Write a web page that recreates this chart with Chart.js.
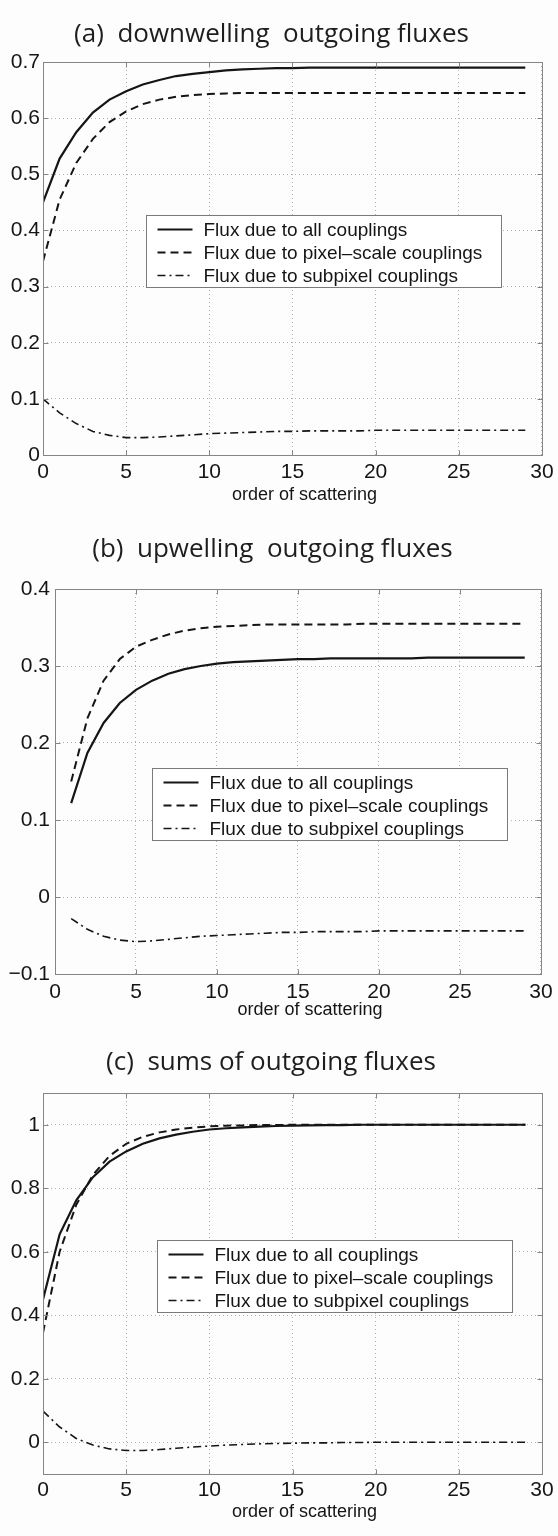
<!DOCTYPE html>
<html>
<head>
<meta charset="utf-8">
<script src="https://cdn.jsdelivr.net/npm/chart.js@4.4.1/dist/chart.umd.min.js"></script>
<style>
  body { margin: 0; background: #fdfdfd; }
  .panel { position: absolute; left: 0; width: 558px; }
</style>
</head>
<body>
<div class="panel" style="top:0;height:520px"><canvas id="chartA"></canvas></div>
<div class="panel" style="top:520px;height:510px"><canvas id="chartB"></canvas></div>
<div class="panel" style="top:1030px;height:506px"><canvas id="chartC"></canvas></div>
<script>
// order of scattering
const orders = [0, 1, 2, 3, 4, 5, 6, 7, 8, 9, 10, 11, 12, 13, 14, 15, 16, 17, 18, 19, 20, 21, 22, 23, 24, 25, 26, 27, 28, 29];
const ordersUp = [1, 2, 3, 4, 5, 6, 7, 8, 9, 10, 11, 12, 13, 14, 15, 16, 17, 18, 19, 20, 21, 22, 23, 24, 25, 26, 27, 28, 29];

// (a) downwelling
const downAll = [0.450, 0.528, 0.575, 0.610, 0.633, 0.648, 0.660, 0.668, 0.675, 0.679, 0.682, 0.685, 0.687, 0.688, 0.689, 0.689, 0.690, 0.690, 0.690, 0.690, 0.690, 0.690, 0.690, 0.690, 0.690, 0.690, 0.690, 0.690, 0.690, 0.690];
const downPixel = [0.345, 0.455, 0.520, 0.563, 0.593, 0.612, 0.625, 0.633, 0.638, 0.641, 0.643, 0.644, 0.645, 0.645, 0.645, 0.645, 0.645, 0.645, 0.645, 0.645, 0.645, 0.645, 0.645, 0.645, 0.645, 0.645, 0.645, 0.645, 0.645, 0.645];
const downSub = [0.100, 0.075, 0.056, 0.042, 0.035, 0.031, 0.031, 0.032, 0.034, 0.036, 0.038, 0.039, 0.040, 0.041, 0.042, 0.042, 0.043, 0.043, 0.043, 0.043, 0.044, 0.044, 0.044, 0.044, 0.044, 0.044, 0.044, 0.044, 0.044, 0.044];

// (b) upwelling
const upAll = [0.122, 0.187, 0.226, 0.252, 0.269, 0.281, 0.290, 0.296, 0.300, 0.303, 0.305, 0.306, 0.307, 0.308, 0.309, 0.309, 0.310, 0.310, 0.310, 0.310, 0.310, 0.310, 0.311, 0.311, 0.311, 0.311, 0.311, 0.311, 0.311];
const upPixel = [0.150, 0.232, 0.281, 0.309, 0.325, 0.334, 0.341, 0.346, 0.349, 0.351, 0.352, 0.353, 0.354, 0.354, 0.354, 0.354, 0.354, 0.354, 0.355, 0.355, 0.355, 0.355, 0.355, 0.355, 0.355, 0.355, 0.355, 0.355, 0.355];
const upSub = [-0.028, -0.042, -0.051, -0.056, -0.058, -0.057, -0.055, -0.053, -0.051, -0.050, -0.049, -0.048, -0.047, -0.046, -0.046, -0.045, -0.045, -0.045, -0.045, -0.044, -0.044, -0.044, -0.044, -0.044, -0.044, -0.044, -0.044, -0.044, -0.044];

// (c) sums
const sumAll = [0.450, 0.655, 0.762, 0.835, 0.884, 0.916, 0.940, 0.957, 0.969, 0.978, 0.985, 0.989, 0.992, 0.994, 0.996, 0.997, 0.998, 0.999, 0.999, 1.000, 1.000, 1.000, 1.000, 1.000, 1.000, 1.000, 1.000, 1.000, 1.000, 1.000];
const sumPixel = [0.345, 0.600, 0.748, 0.842, 0.902, 0.940, 0.962, 0.976, 0.985, 0.991, 0.995, 0.997, 0.998, 0.999, 0.999, 1.000, 1.000, 1.000, 1.000, 1.000, 1.000, 1.000, 1.000, 1.000, 1.000, 1.000, 1.000, 1.000, 1.000, 1.000];
const sumSub = [0.098, 0.048, 0.012, -0.009, -0.021, -0.026, -0.026, -0.023, -0.019, -0.015, -0.012, -0.009, -0.007, -0.005, -0.004, -0.003, -0.002, -0.002, -0.001, -0.001, 0.000, 0.000, 0.000, 0.000, 0.000, 0.000, 0.000, 0.000, 0.000, 0.000];

const seriesLabels = ["Flux due to all couplings", "Flux due to pixel\u2013scale couplings", "Flux due to subpixel couplings"];
const panelTitles = ["(a)  downwelling  outgoing fluxes", "(b)  upwelling  outgoing fluxes", "(c)  sums of outgoing fluxes"];
const xTitle = "order of scattering";
const xTicks = [0, 5, 10, 15, 20, 25, 30];
const yTicksA = [0, 0.1, 0.2, 0.3, 0.4, 0.5, 0.6, 0.7];
const yTicksB = [-0.1, 0, 0.1, 0.2, 0.3, 0.4];
const yTicksC = [0, 0.2, 0.4, 0.6, 0.8, 1];

const INK = "#151515";
const SANS = "'Liberation Sans', Arial, sans-serif";
const tickFont = { family: SANS, size: 21 };

// MATLAB style box with inward ticks
const axesBox = {
  id: "axesBox",
  afterDatasetsDraw(chart) {
    const { ctx, chartArea: a, scales: { x, y } } = chart;
    const L = Math.round(a.left) + 0.5, R = Math.round(a.right) + 0.5;
    const T = Math.round(a.top) + 0.5, B = Math.round(a.bottom) + 0.5;
    ctx.save();
    ctx.strokeStyle = "#858585";
    ctx.lineWidth = 1;
    ctx.strokeRect(L, T, R - L, B - T);
    ctx.beginPath();
    x.ticks.forEach(t => {
      const px = Math.round(x.getPixelForValue(t.value)) + 0.5;
      ctx.moveTo(px, T); ctx.lineTo(px, T + 5);
      ctx.moveTo(px, B); ctx.lineTo(px, B - 5);
    });
    y.ticks.forEach(t => {
      const py = Math.round(y.getPixelForValue(t.value)) + 0.5;
      ctx.moveTo(L, py); ctx.lineTo(L + 5, py);
      ctx.moveTo(R, py); ctx.lineTo(R - 5, py);
    });
    ctx.stroke();
    ctx.restore();
  }
};

// x label sits a little right of the axes centre in the original
const xLabel = {
  id: "xLabel",
  afterDraw(chart, args, opts) {
    const { ctx, chartArea: a } = chart;
    ctx.save();
    ctx.font = "18px " + SANS;
    ctx.fillStyle = INK;
    ctx.textAlign = "center";
    ctx.textBaseline = "middle";
    ctx.fillText(opts.text, (a.left + a.right) / 2 + 12, a.bottom + opts.dy);
    ctx.restore();
  }
};

// boxed legend inside the axes
const boxLegend = {
  id: "boxLegend",
  afterDraw(chart, args, opts) {
    const { ctx, chartArea } = chart;
    const left = Math.round(chartArea.left + opts.dx) + 0.5;
    const top = Math.round(chartArea.top + opts.dy) + 0.5;
    ctx.save();
    ctx.font = "19px " + SANS;
    const sets = chart.data.datasets;
    const textW = Math.max(...sets.map(d => ctx.measureText(d.label).width));
    const w = Math.round(57 + textW + 19), h = 72;
    ctx.fillStyle = "#fff";
    ctx.fillRect(left, top, w, h);
    ctx.strokeStyle = "#7a7a7a";
    ctx.lineWidth = 1;
    ctx.strokeRect(left, top, w, h);
    sets.forEach((d, i) => {
      const yy = top + 14 + i * 23;
      ctx.setLineDash(d.borderDash || []);
      ctx.strokeStyle = d.borderColor;
      ctx.lineWidth = d.borderWidth;
      ctx.beginPath();
      ctx.moveTo(left + 11, yy);
      ctx.lineTo(left + 46, yy);
      ctx.stroke();
      ctx.setLineDash([]);
      ctx.fillStyle = INK;
      ctx.textBaseline = "middle";
      ctx.textAlign = "left";
      ctx.fillText(d.label, left + 57, yy + 1);
    });
    ctx.restore();
  }
};

function fmt(v) {
  const s = String(Math.abs(+v.toFixed(2)));
  return v < -1e-9 ? "\u2212" + s : s;
}

function makeChart(id, p) {
  const pts = ys => p.xs.map((x, i) => ({ x: x, y: ys[i] }));
  new Chart(document.getElementById(id), {
    type: "line",
    data: {
      datasets: [
        { label: seriesLabels[0], data: pts(p.all), borderColor: INK, borderWidth: 2.2, borderDash: [] },
        { label: seriesLabels[1], data: pts(p.pixel), borderColor: INK, borderWidth: 2, borderDash: [8, 5] },
        { label: seriesLabels[2], data: pts(p.sub), borderColor: INK, borderWidth: 1.6, borderDash: [8, 4, 2, 4] }
      ]
    },
    options: {
      responsive: true,
      maintainAspectRatio: false,
      animation: false,
      devicePixelRatio: 1,
      layout: { padding: { left: 0, right: p.padRight, top: 0, bottom: 0 } },
      elements: { point: { radius: 0 }, line: { tension: 0, fill: false } },
      plugins: {
        legend: { display: false },
        tooltip: { enabled: false },
        title: {
          display: true,
          text: p.title,
          color: "#1e1e1e",
          font: { family: "'Open Sans', sans-serif", size: 26, weight: "normal" },
          padding: { top: p.titleTop, bottom: p.titleBottom }
        },
        xLabel: { text: xTitle, dy: p.xTitleDy },
        boxLegend: { dx: p.legendDx, dy: p.legendDy }
      },
      scales: {
        x: {
          type: "linear",
          min: 0,
          max: 30,
          afterBuildTicks: s => { s.ticks = xTicks.map(v => ({ value: v })); },
          afterFit: s => { s.height = p.xHeight; },
          grid: { color: "#b0b0b0", lineWidth: 1, drawTicks: false },
          border: { display: false, dash: [1, 3] },
          ticks: { color: INK, font: tickFont, padding: p.xTickPad, maxRotation: 0 }
        },
        y: {
          min: p.yMin,
          max: p.yMax,
          afterBuildTicks: s => { s.ticks = p.yTicks.map(v => ({ value: v })); },
          afterFit: s => { s.width = p.yWidth; },
          grid: { color: "#b0b0b0", lineWidth: 1, drawTicks: false },
          border: { display: false, dash: [1, 3] },
          ticks: { color: INK, font: tickFont, padding: p.yTickPad, callback: v => fmt(v) }
        }
      }
    },
    plugins: [axesBox, xLabel, boxLegend]
  });
}

makeChart("chartA", {
  title: panelTitles[0], xs: orders, all: downAll, pixel: downPixel, sub: downSub,
  yMin: 0, yMax: 0.7, yTicks: yTicksA,
  padRight: 15, yWidth: 43, yTickPad: 3, xHeight: 65, xTickPad: 4.4, xTitleDy: 40,
  titleTop: 19.4, titleBottom: 11.4, legendDx: 103, legendDy: 153
});

makeChart("chartB", {
  title: panelTitles[1], xs: ordersUp, all: upAll, pixel: upPixel, sub: upSub,
  yMin: -0.1, yMax: 0.4, yTicks: yTicksB,
  padRight: 13, yWidth: 55, yTickPad: 5, xHeight: 56, xTickPad: 5.4, xTitleDy: 36,
  titleTop: 14.4, titleBottom: 23.4, legendDx: 97, legendDy: 179
});

makeChart("chartC", {
  title: panelTitles[2], xs: orders, all: sumAll, pixel: sumPixel, sub: sumSub,
  yMin: -0.1, yMax: 1.1, yTicks: yTicksC,
  padRight: 16, yWidth: 43, yTickPad: 3, xHeight: 62, xTickPad: 3.4, xTitleDy: 38,
  titleTop: 17.4, titleBottom: 14.4, legendDx: 114, legendDy: 147
});
</script>
</body>
</html>
